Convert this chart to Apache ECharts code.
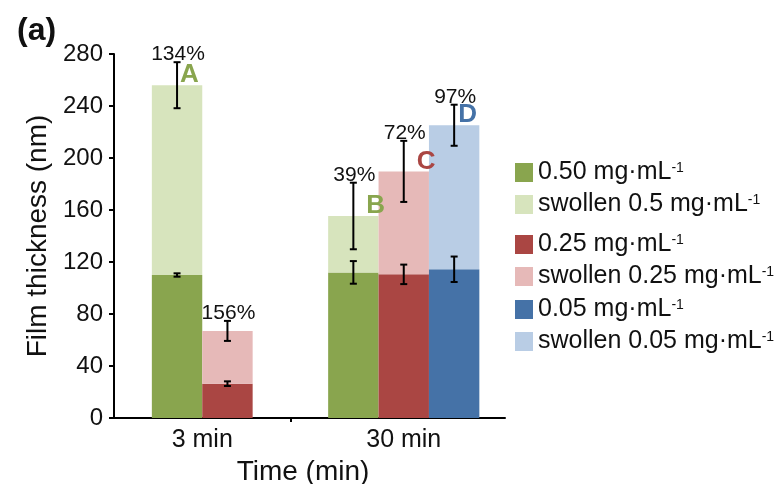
<!DOCTYPE html>
<html><head><meta charset="utf-8">
<script src="https://cdn.jsdelivr.net/npm/echarts@6/dist/echarts.min.js"></script>
<style>html,body{margin:0;padding:0;background:#fff}#c{width:780px;height:484px}</style>
</head><body><div id="c"></div>
<script>
// ---- data ----
const times = ['3 min', '30 min'];
const dry050 = [110, 112];
const swollen050 = [256, 155.4];
const dry025 = [26.4, 110.5];
const swollen025 = [67, 189.7];
const dry005 = [null, 114.4];
const swollen005 = [null, 225.2];
const dryErr050 = [1.3, 8.7];
const swErr050 = [17.7, 25.6];
const dryErr025 = [1.8, 7.5];
const swErr025 = [7.7, 23.5];
const dryErr005 = [null, 9.8];
const swErr005 = [null, 15.8];
const pct050 = ['134%', '39%'];
const pct025 = ['156%', '72%'];
const pct005 = [null, '97%'];
const letters050 = ['A', 'B'];
const letters025 = [null, 'C'];
const letters005 = [null, 'D'];
const names050 = ['0.50 mg·mL⁻¹', 'swollen 0.5 mg·mL⁻¹'];
const names025 = ['0.25 mg·mL⁻¹', 'swollen 0.25 mg·mL⁻¹'];
const names005 = ['0.05 mg·mL⁻¹', 'swollen 0.05 mg·mL⁻¹'];

// ---- style ----
const FONT = 'Liberation Sans, Arial, sans-serif';
const BAR_W = 50.4;
const LETTER_DX = {A: 3, B: 13, C: 13, D: 4};
const groups = [
  {dry: dry050, sw: swollen050, de: dryErr050, se: swErr050, pct: pct050, let: letters050, names: names050, color: '#89A54E', light: '#D7E4BD'},
  {dry: dry025, sw: swollen025, de: dryErr025, se: swErr025, pct: pct025, let: letters025, names: names025, color: '#AA4643', light: '#E6B9B8'},
  {dry: dry005, sw: swollen005, de: dryErr005, se: swErr005, pct: pct005, let: letters005, names: names005, color: '#4572A7', light: '#B9CDE5'}
];

const series = [];
const errRows = [];
times.forEach((t, ti) => {
  const present = groups.filter(g => g.dry[ti] != null);
  const n = present.length;
  present.forEach((g, slot) => {
    const gi = groups.indexOf(g);
    series.push({
      name: g.names[0], type: 'bar', xAxisIndex: 1 + ti, yAxisIndex: 1, stack: 's' + gi,
      barWidth: BAR_W, barGap: '0%', itemStyle: {color: g.color}, silent: true,
      data: times.map((_, i) => i === ti ? g.dry[ti] : '-')
    });
    series.push({
      name: g.names[1], type: 'bar', xAxisIndex: 1 + ti, yAxisIndex: 1, stack: 's' + gi,
      barWidth: BAR_W, barGap: '0%', itemStyle: {color: g.light}, silent: true,
      data: times.map((_, i) => i === ti ? g.sw[ti] - g.dry[ti] : '-')
    });
    errRows.push({v: [ti, slot, n, g.dry[ti], g.de[ti]], pct: null, letter: null, color: g.color});
    errRows.push({v: [ti, slot, n, g.sw[ti], g.se[ti]], pct: g.pct[ti], letter: g.let[ti], color: g.color});
  });
});

series.push({
  type: 'custom', xAxisIndex: 1, yAxisIndex: 1, silent: true, clip: false, z: 10,
  data: errRows.map(r => r.v),
  renderItem: function (params, api) {
    const row = errRows[params.dataIndex];
    const cat = api.value(0), slot = api.value(1), n = api.value(2), c = api.value(3), e = api.value(4);
    const x = api.coord([cat, c])[0] + (slot - (n - 1) / 2) * BAR_W;
    const yTop = api.coord([cat, c + e])[1];
    const yBot = api.coord([cat, c - e])[1];
    const yBar = api.coord([cat, c])[1];
    const st = {stroke: '#000', lineWidth: 2};
    const ch = [
      {type: 'line', shape: {x1: x, y1: yTop, x2: x, y2: yBot}, style: st},
      {type: 'line', shape: {x1: x - 3.5, y1: yTop, x2: x + 3.5, y2: yTop}, style: st},
      {type: 'line', shape: {x1: x - 3.5, y1: yBot, x2: x + 3.5, y2: yBot}, style: st}
    ];
    if (row.pct) {
      ch.push({type: 'text', x: x + 1, y: yTop + 3, style: {text: row.pct, font: '21px ' + FONT, fill: '#111', align: 'center', verticalAlign: 'bottom'}});
    }
    if (row.letter) {
      ch.push({type: 'text', x: x + LETTER_DX[row.letter], y: yBar + 3, style: {text: row.letter, font: 'bold 26px ' + FONT, fill: row.color, align: 'left', verticalAlign: 'bottom'}});
    }
    return {type: 'group', children: ch};
  }
});

const legendStyle = {
  orient: 'vertical', left: 510, itemWidth: 18, itemHeight: 19, itemGap: 7, icon: 'rect',
  selectedMode: false,
  formatter: name => '{a|' + name.replace('⁻¹', '') + '}{s|-1}',
  textStyle: {
    color: '#111', fontFamily: FONT,
    rich: {
      a: {fontSize: 25, lineHeight: 22, fontFamily: FONT, color: '#111'},
      s: {fontSize: 14, lineHeight: 14, verticalAlign: 'top', fontFamily: FONT, color: '#111'}
    }
  }
};

const option = {
  animation: false,
  backgroundColor: '#fff',
  title: {text: '(a)', left: 12, top: 10, textStyle: {fontSize: 32, fontWeight: 'bold', color: '#111', fontFamily: FONT}},
  legend: [
    Object.assign({}, legendStyle, {top: 155, data: names050}),
    Object.assign({}, legendStyle, {top: 227, data: names025}),
    Object.assign({}, legendStyle, {top: 292, data: names005})
  ],
  grid: [
    {left: 114, right: 275, top: 54, bottom: 66, outerBoundsMode: 'none', containLabel: false},
    {left: 101.5, right: 275.5, top: 54, bottom: 66, outerBoundsMode: 'none', containLabel: false}
  ],
  xAxis: [
    {gridIndex: 0, type: 'value', min: 0, max: 1,
     axisLine: {show: true, lineStyle: {color: '#000', width: 2}},
     axisTick: {show: true, customValues: [0.453], length: 4, lineStyle: {color: '#000', width: 2}},
     axisLabel: {show: false}, splitLine: {show: false}},
    {gridIndex: 1, type: 'category', data: times,
     axisLine: {show: false}, axisTick: {show: false},
     axisLabel: {fontSize: 25, color: '#111', fontFamily: FONT, margin: 10},
     name: 'Time (min)', nameLocation: 'middle', nameGap: 35,
     nameTextStyle: {fontSize: 28, color: '#111', fontFamily: FONT}},
    {gridIndex: 1, type: 'category', data: times, show: false}
  ],
  yAxis: [
    {gridIndex: 0, type: 'value', min: 0, max: 280, interval: 40,
     axisLine: {show: true, lineStyle: {color: '#000', width: 2}},
     axisTick: {show: true, length: 5, lineStyle: {color: '#000', width: 2}},
     axisLabel: {fontSize: 24, color: '#111', fontFamily: FONT, margin: 11},
     splitLine: {show: false},
     name: 'Film thickness (nm)', nameLocation: 'middle', nameGap: 61,
     nameTextStyle: {fontSize: 28, color: '#111', fontFamily: FONT}},
    {gridIndex: 1, type: 'value', min: 0, max: 280, interval: 40, show: false, splitLine: {show: false}}
  ],
  series: series
};
echarts.init(document.getElementById('c'), null, {renderer: 'canvas'}).setOption(option);
</script>
</body></html>
